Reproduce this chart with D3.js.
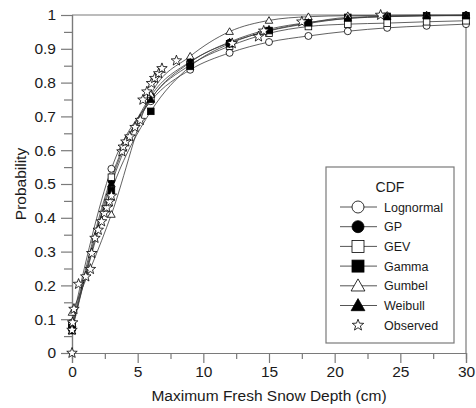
<!DOCTYPE html>
<html>
<head>
<meta charset="utf-8"/>
<title>Snow depth CDF</title>
<script src="https://cdn.jsdelivr.net/npm/d3@7"></script>
<style>
  body { margin: 0; background: #fff; }
  text { font-family: "Liberation Sans", Arial, sans-serif; fill: #1a1a1a; }
</style>
</head>
<body>
<div id="chart"></div>
<script>
// depths where the fitted curves carry a marker
var fitX = [0, 3, 6, 9, 12, 15, 18, 21, 24, 27, 30];
var lognormal = [0.09, 0.545, 0.745, 0.838, 0.888, 0.92, 0.938, 0.952, 0.962, 0.968, 0.973];
var gp        = [0.07, 0.51, 0.76, 0.862, 0.918, 0.953, 0.975, 0.99, 0.996, 0.998, 0.999];
var gev       = [0.08, 0.52, 0.752, 0.852, 0.908, 0.946, 0.966, 0.973, 0.976, 0.98, 0.983];
var gamma     = [0.075, 0.48, 0.715, 0.848, 0.915, 0.954, 0.977, 0.993, 0.996, 0.998, 0.998];
var gumbel    = [0.12, 0.41, 0.765, 0.878, 0.951, 0.984, 0.995, 0.998, 0.999, 1.0, 1.0];
var weibull   = [0.065, 0.5, 0.75, 0.86, 0.92, 0.958, 0.978, 0.99, 0.995, 0.998, 0.999];

// observed plotting positions
var obsX = [0, 0, 0.05, 0.15, 0.5, 1.05, 1.4, 1.5, 1.75, 2.0, 2.25, 2.45, 2.65, 2.85, 3.0,
            3.8, 3.9, 4.1, 4.4, 4.8, 5.2, 5.4, 5.7, 6.05, 6.3, 6.6, 6.85, 7.95,
            12.2, 14.2, 14.6, 17.5, 23.5];
var obsY = [0, 0.068, 0.09, 0.13, 0.204, 0.226, 0.248, 0.295, 0.34, 0.364, 0.389, 0.414, 0.43, 0.448, 0.465,
            0.596, 0.61, 0.625, 0.64, 0.668, 0.689, 0.749, 0.773, 0.798, 0.813, 0.827, 0.842, 0.865,
            0.916, 0.936, 0.953, 0.98, 1.0];

var xTicks = [0, 5, 10, 15, 20, 25, 30];
var yTicks = [0, 0.1, 0.2, 0.3, 0.4, 0.5, 0.6, 0.7, 0.8, 0.9, 1];
var xMinor = [2.5, 7.5, 12.5, 17.5, 22.5, 27.5];
var yMinor = [0.05, 0.15, 0.25, 0.35, 0.45, 0.55, 0.65, 0.75, 0.85, 0.95];

var seriesNames = ["Lognormal", "GP", "GEV", "Gamma", "Gumbel", "Weibull"];
var seriesVals = [lognormal, gp, gev, gamma, gumbel, weibull];

var W = 476, H = 408;
var m = {top: 15, right: 10, bottom: 55, left: 72};
var w = W - m.left - m.right, h = H - m.top - m.bottom;
var axisCol = "#7a7a7a";

var svg = d3.select("#chart").append("svg")
    .attr("width", W)
    .attr("height", H);

var g = svg.append("g").attr("transform", "translate(" + m.left + "," + m.top + ")");

var x = d3.scaleLinear().domain([0, 30]).range([0, w]);
var y = d3.scaleLinear().domain([0, 1]).range([h, 0]);

// frame top + right
g.append("line").attr("x1", 0).attr("x2", w).attr("y1", 0).attr("y2", 0)
    .attr("stroke", axisCol).attr("stroke-width", 1.2);
g.append("line").attr("x1", w).attr("x2", w).attr("y1", 0).attr("y2", h)
    .attr("stroke", axisCol).attr("stroke-width", 1.2);

// axes
var xAxis = g.append("g").attr("transform", "translate(0," + h + ")")
    .call(d3.axisBottom(x).tickValues(xTicks).tickSize(10).tickPadding(3).tickFormat(d3.format("d")));
var xMin = g.append("g").attr("transform", "translate(0," + h + ")")
    .call(d3.axisBottom(x).tickValues(xMinor).tickSize(6).tickFormat(""));
var yAxis = g.append("g")
    .call(d3.axisLeft(y).tickValues(yTicks).tickSize(11).tickPadding(5).tickFormat(function(d) { return +d.toFixed(1); }));
var yMin = g.append("g")
    .call(d3.axisLeft(y).tickValues(yMinor).tickSize(8).tickFormat(""));

[xAxis, xMin, yAxis, yMin].forEach(function(a) {
  a.selectAll(".domain").attr("stroke", axisCol).attr("stroke-width", 1.2);
  a.selectAll(".tick line").attr("stroke", axisCol).attr("stroke-width", 1.2);
  a.selectAll(".tick text").attr("font-size", "15.5px").attr("fill", "#1a1a1a")
    .attr("font-family", "Liberation Sans, Arial, sans-serif");
});

// axis titles
svg.append("text")
    .attr("x", m.left + w / 2).attr("y", 401)
    .attr("text-anchor", "middle").attr("font-size", "15.5px")
    .text("Maximum Fresh Snow Depth (cm)");
svg.append("text")
    .attr("transform", "translate(26," + (m.top + h / 2) + ") rotate(-90)")
    .attr("text-anchor", "middle").attr("font-size", "15.5px")
    .text("Probability");

// marker drawing
function starPath(r) {
  var pts = [];
  for (var i = 0; i < 10; i++) {
    var rr = i % 2 === 0 ? r : r * 0.42;
    var a = -Math.PI / 2 + i * Math.PI / 5;
    pts.push([rr * Math.cos(a), rr * Math.sin(a)]);
  }
  return "M" + pts.map(function(p) { return p[0].toFixed(2) + "," + p[1].toFixed(2); }).join("L") + "Z";
}

function drawMarker(sel, kind, s) {
  // s = half-size
  if (kind === "Lognormal" || kind === "GP") {
    sel.append("circle").attr("r", s)
      .attr("fill", kind === "GP" ? "#000" : "#fff");
  } else if (kind === "GEV" || kind === "Gamma") {
    sel.append("rect").attr("x", -s).attr("y", -s).attr("width", 2 * s).attr("height", 2 * s)
      .attr("fill", kind === "Gamma" ? "#000" : "#fff");
  } else if (kind === "Gumbel" || kind === "Weibull") {
    var t = s * 1.15;
    sel.append("path")
      .attr("d", "M0," + (-t) + "L" + t + "," + (t * 0.75) + "L" + (-t) + "," + (t * 0.75) + "Z")
      .attr("fill", kind === "Weibull" ? "#000" : "#fff");
  } else {
    sel.append("path").attr("d", starPath(s)).attr("fill", "#fff");
  }
  sel.selectAll("*").attr("stroke", "#000").attr("stroke-width", 0.8);
}

var line = d3.line()
    .x(function(d) { return x(d[0]); })
    .y(function(d) { return y(d[1]); })
    .curve(d3.curveMonotoneX);

// fitted curves
seriesNames.forEach(function(name, i) {
  var pts = fitX.map(function(v, j) { return [v, seriesVals[i][j]]; });
  g.append("path").datum(pts)
    .attr("d", line)
    .attr("fill", "none")
    .attr("stroke", "#3a3a3a")
    .attr("stroke-width", 0.8);
});

// fitted markers
seriesNames.forEach(function(name, i) {
  fitX.forEach(function(v, j) {
    var mk = g.append("g").attr("transform", "translate(" + x(v) + "," + y(seriesVals[i][j]) + ")");
    drawMarker(mk, name, name === "Lognormal" || name === "GP" ? 3.5 : 3.3);
  });
});

// observed stars
obsX.forEach(function(v, j) {
  var mk = g.append("g").attr("transform", "translate(" + x(v) + "," + y(obsY[j]) + ")");
  drawMarker(mk, "Observed", 5.5);
});

// legend
var lg = svg.append("g").attr("transform", "translate(326,167)");
lg.append("rect").attr("width", 128).attr("height", 176)
    .attr("fill", "#fff").attr("stroke", axisCol).attr("stroke-width", 1.2);
lg.append("text").attr("x", 64).attr("y", 25).attr("text-anchor", "middle")
    .attr("font-size", "14px").text("CDF");

var legNames = seriesNames.concat(["Observed"]);
legNames.forEach(function(name, i) {
  var row = lg.append("g").attr("transform", "translate(0," + (40 + i * 19.7) + ")");
  if (name !== "Observed") {
    row.append("line").attr("x1", 14).attr("x2", 51).attr("y1", 0).attr("y2", 0)
      .attr("stroke", "#555").attr("stroke-width", 1);
  }
  var mk = row.append("g").attr("transform", "translate(32,0)");
  drawMarker(mk, name, name === "Observed" ? 6 : 6);
  row.append("text").attr("x", 58).attr("y", 4.5)
    .attr("font-size", "12.5px").text(name);
});
</script>
</body>
</html>
